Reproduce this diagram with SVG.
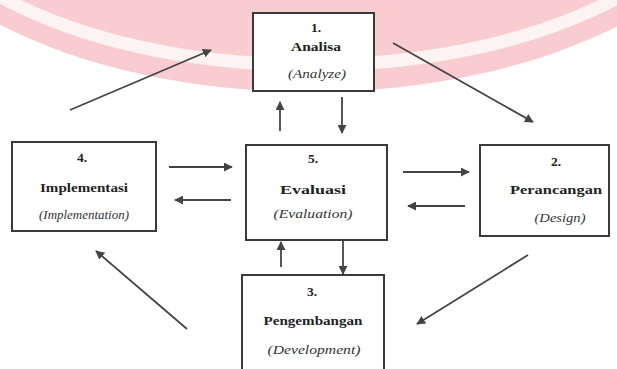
<svg xmlns="http://www.w3.org/2000/svg" width="617" height="369" viewBox="0 0 617 369">
  <style>
    .box { fill: #ffffff; stroke: #3a3a3a; stroke-width: 2; }
    .num, .title { font-family: "Liberation Serif", "Times New Roman", serif; font-weight: bold; font-size: 13.5px; fill: #222; text-anchor: middle; }
    .sub { font-family: "Liberation Serif", "Times New Roman", serif; font-style: italic; font-size: 13px; fill: #333; text-anchor: middle; }
    .arrow { stroke: #444; stroke-width: 1.8; fill: none; marker-end: url(#ah); }
  </style>
  <defs>
    <marker id="ah" viewBox="0 0 10 10" refX="9" refY="5" markerWidth="5" markerHeight="5" orient="auto" markerUnits="strokeWidth">
      <path d="M0,0 L10,5 L0,10 z" fill="#444"/>
    </marker>
  </defs>
  <rect width="617" height="369" fill="#ffffff"/>
  <g id="watermark">
    <ellipse cx="310" cy="-140" rx="440" ry="232" fill="#f9cdd0"/>
    <ellipse cx="310" cy="-140" rx="415" ry="205" fill="none" stroke="#fdf3f3" stroke-width="13"/>
  </g>
  <g id="connectors">
    <line class="arrow" x1="70" y1="110" x2="211" y2="50"/>
    <line class="arrow" x1="393" y1="43" x2="533" y2="122"/>
    <line class="arrow" x1="280" y1="131" x2="280" y2="102"/>
    <line class="arrow" x1="342" y1="97" x2="342" y2="133"/>
    <line class="arrow" x1="169" y1="167" x2="232" y2="167"/>
    <line class="arrow" x1="231" y1="200" x2="175" y2="200"/>
    <line class="arrow" x1="403" y1="172" x2="469" y2="172"/>
    <line class="arrow" x1="465" y1="206" x2="408" y2="206"/>
    <line class="arrow" x1="281" y1="267" x2="281" y2="242"/>
    <line class="arrow" x1="343" y1="241" x2="343" y2="274"/>
    <line class="arrow" x1="528" y1="255" x2="417" y2="324"/>
    <line class="arrow" x1="187" y1="329" x2="96" y2="251"/>
  </g>
  <g id="node1">
    <rect class="box" x="253" y="13" width="121" height="78"/>
    <text class="num" x="316" y="32">1.</text>
    <text class="title" x="316" y="51" textLength="50" lengthAdjust="spacingAndGlyphs">Analisa</text>
    <text class="sub" x="317" y="78" textLength="58" lengthAdjust="spacingAndGlyphs">(Analyze)</text>
  </g>
  <g id="node4">
    <rect class="box" x="12" y="142" width="144" height="89"/>
    <text class="num" x="82" y="162">4.</text>
    <text class="title" x="84" y="192" textLength="88" lengthAdjust="spacingAndGlyphs">Implementasi</text>
    <text class="sub" x="84" y="219" textLength="90" lengthAdjust="spacingAndGlyphs">(Implementation)</text>
  </g>
  <g id="node5">
    <rect class="box" x="246" y="145" width="141" height="95"/>
    <text class="num" x="313" y="163">5.</text>
    <text class="title" x="313" y="194" textLength="66" lengthAdjust="spacingAndGlyphs">Evaluasi</text>
    <text class="sub" x="313" y="218" textLength="79" lengthAdjust="spacingAndGlyphs">(Evaluation)</text>
  </g>
  <g id="node2">
    <rect class="box" x="480" y="145" width="129" height="91"/>
    <text class="num" x="556" y="166">2.</text>
    <text class="title" x="556" y="194" textLength="92" lengthAdjust="spacingAndGlyphs">Perancangan</text>
    <text class="sub" x="560" y="222" textLength="51" lengthAdjust="spacingAndGlyphs">(Design)</text>
  </g>
  <g id="node3">
    <rect class="box" x="242" y="275" width="142" height="100"/>
    <text class="num" x="312" y="296">3.</text>
    <text class="title" x="313" y="325" textLength="99" lengthAdjust="spacingAndGlyphs">Pengembangan</text>
    <text class="sub" x="314" y="354" textLength="93" lengthAdjust="spacingAndGlyphs">(Development)</text>
  </g>
</svg>
